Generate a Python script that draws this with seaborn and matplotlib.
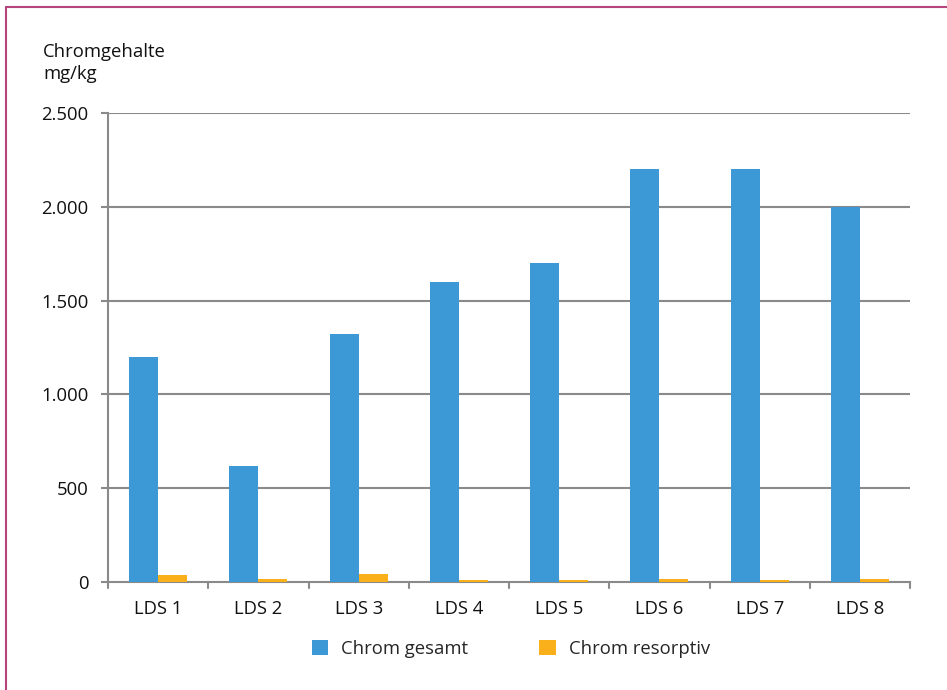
import matplotlib
matplotlib.use("Agg")
import matplotlib.pyplot as plt
from matplotlib.lines import Line2D
from matplotlib.patches import Patch
import seaborn as sns
import pandas as pd

categories = ["LDS 1", "LDS 2", "LDS 3", "LDS 4", "LDS 5", "LDS 6", "LDS 7", "LDS 8"]
chrom_gesamt = [1200, 620, 1320, 1600, 1700, 2200, 2200, 2000]
chrom_resorptiv = [36, 15, 45, 10, 8, 18, 13, 15]
series_names = ["Chrom gesamt", "Chrom resorptiv"]
yticks = [0, 500, 1000, 1500, 2000, 2500]
ytick_labels = ["0", "500", "1.000", "1.500", "2.000", "2.500"]
colors = ["#3d98d6", "#f9b01a"]

df = pd.DataFrame({
    "cat": categories * 2,
    "val": chrom_gesamt + chrom_resorptiv,
    "series": [series_names[0]] * len(categories) + [series_names[1]] * len(categories),
})

sns.set_style("white")
plt.rcParams["font.family"] = ["Open Sans", "DejaVu Sans"]
FS = 13.3
TXT = "#111111"

fig = plt.figure(figsize=(9.47, 6.9), dpi=100)
W, H = 947, 690
ax = fig.add_axes([108 / W, 1 - 582 / H, (910 - 108) / W, (582 - 113) / H])

sns.barplot(data=df, x="cat", y="val", hue="series", palette=colors,
            width=0.58, gap=0, dodge=True, saturation=1, ax=ax, legend=False,
            errorbar=None, edgecolor="none", linewidth=0, zorder=3)

ax.set_xlim(-0.5, len(categories) - 0.5)
ax.set_ylim(0, 2500)
ax.set_yticks(yticks)
ax.set_yticklabels(ytick_labels, fontsize=FS, color=TXT)
ax.set_xlabel("")
ax.set_ylabel("")
ax.set_xticks(range(len(categories)))
ax.set_xticklabels(categories, fontsize=FS, color=TXT)
ax.tick_params(axis="x", length=0, pad=13)
ax.tick_params(axis="y", length=5, width=1.5, color="#8a8a8a", pad=9, left=True)

for y in yticks[1:]:
    ax.axhline(y, color="#8a8a8a", lw=1.5, zorder=0)

for s in ["top", "right"]:
    ax.spines[s].set_visible(False)
ax.spines["left"].set_color("#8a8a8a")
ax.spines["left"].set_linewidth(1.5)
ax.spines["bottom"].set_color("#8a8a8a")
ax.spines["bottom"].set_linewidth(1.5)
ax.spines["bottom"].set_zorder(2)

# category boundary ticks below x axis
for b in [i - 0.5 for i in range(len(categories) + 1)]:
    ax.add_line(Line2D([b, b], [0, -0.013], transform=ax.get_xaxis_transform(),
                       color="#8a8a8a", lw=1.5, clip_on=False))

fig.text(43 / W, 1 - 63 / H, "Chromgehalte\nmg/kg", fontsize=FS, color=TXT,
         va="center", ha="left", linespacing=1.3)

handles = [Patch(facecolor=c, edgecolor="none") for c in colors]
fig.legend(handles, series_names, loc="center", bbox_to_anchor=(511 / W, 1 - 649 / H),
           ncol=2, frameon=False, fontsize=FS, handlelength=0.9, handleheight=0.9,
           columnspacing=3.85, handletextpad=0.7)

# page border (top and left)
fig.add_artist(Line2D([5.5 / W, 1], [1 - 7 / H, 1 - 7 / H], transform=fig.transFigure,
                      color="#b5457a", lw=1.5))
fig.add_artist(Line2D([5.5 / W, 5.5 / W], [0, 1 - 7 / H], transform=fig.transFigure,
                      color="#b5457a", lw=1.5))

fig.savefig("out.png", dpi=100, facecolor="white")
